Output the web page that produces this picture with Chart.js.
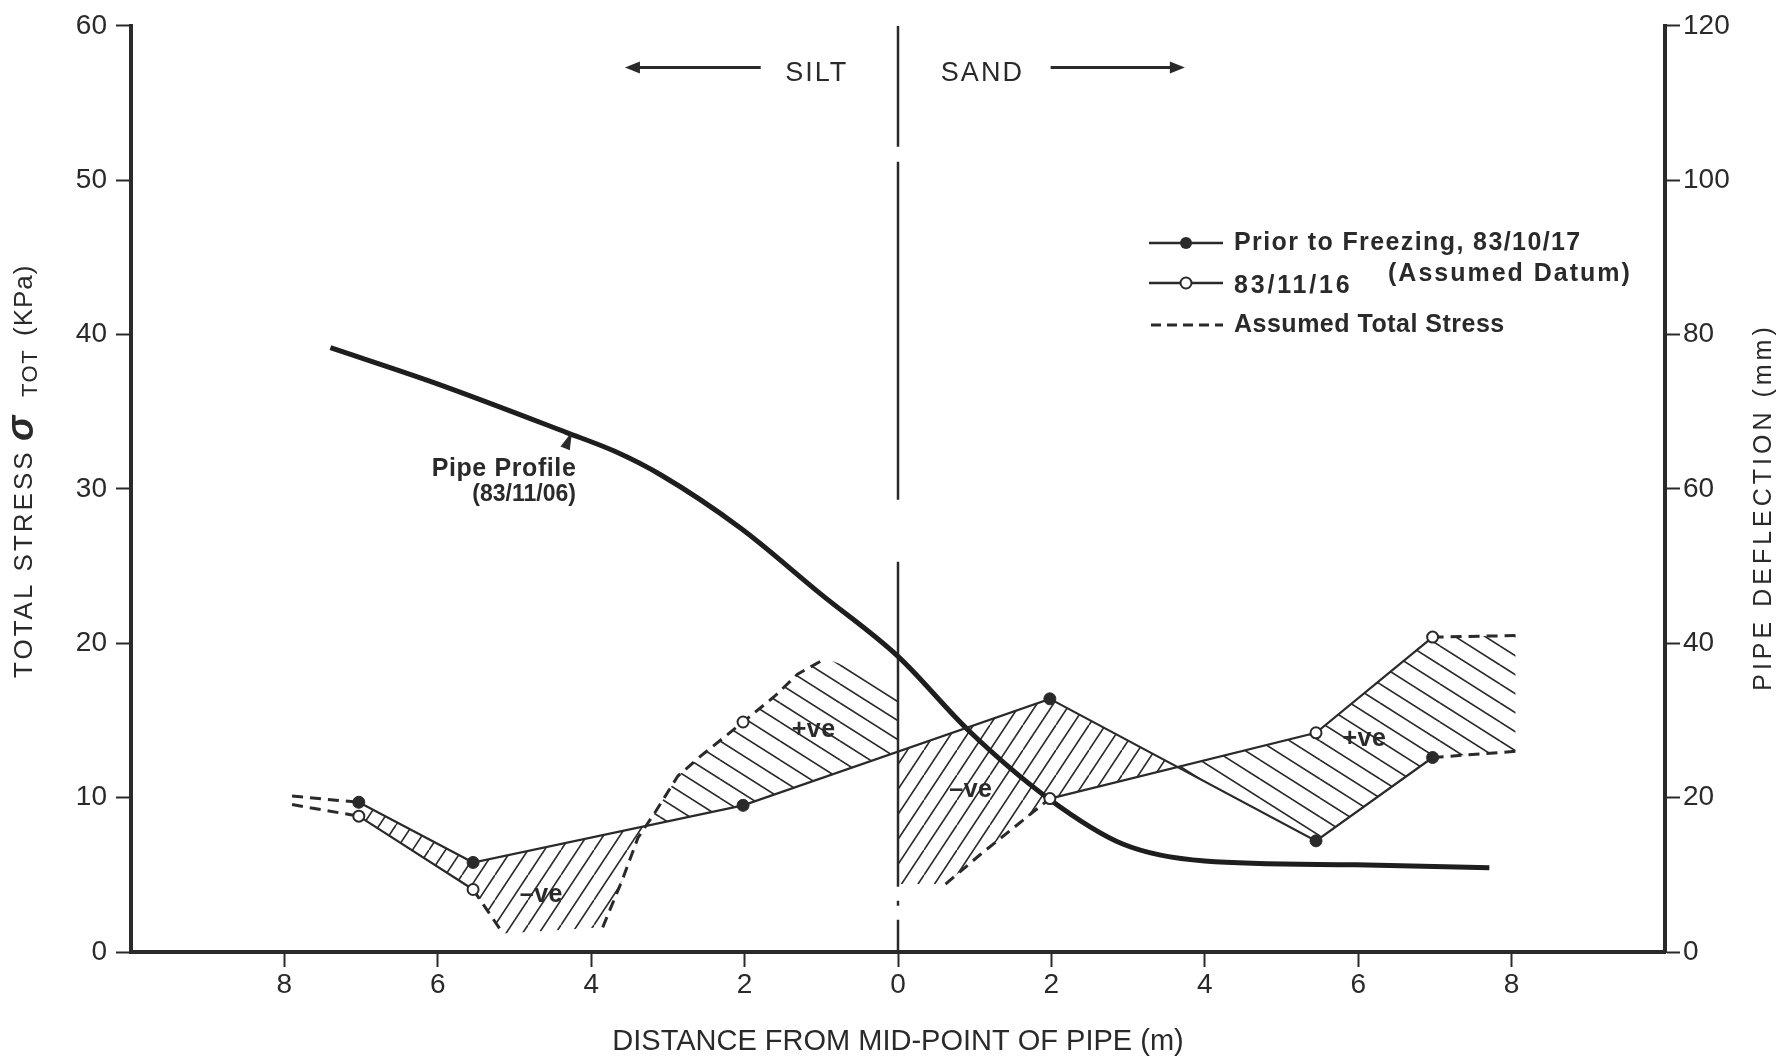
<!DOCTYPE html>
<html>
<head>
<meta charset="utf-8">
<title>Total stress and pipe deflection</title>
<script src="https://cdn.jsdelivr.net/npm/chart.js@4.4.1/dist/chart.umd.min.js"></script>
<style>
  html, body { margin: 0; padding: 0; background: #ffffff; }
  #wrap { width: 1787px; height: 1059px; position: relative; }
</style>
</head>
<body>
<div id="wrap"><canvas id="c" width="1787" height="1059"></canvas></div>
<script>
// ---- axes ----
const distanceTicks = [-8, -6, -4, -2, 0, 2, 4, 6, 8];   // m, negative = silt side
const stressRange = [0, 60];                              // kPa
const deflectionRange = [0, 120];                         // mm

// ---- total stress cells (kPa) ----
const cellX = [-7.03, -5.54, -2.02, 1.98, 5.45, 6.97];
const priorStress = [9.7, 5.8, 9.5, 16.4, 7.2, 12.6];     // prior to freezing, 83/10/17
const novStress = [8.8, 4.05, 14.9, 9.94, 14.2, 20.4];    // 83/11/16

// ---- assumed total stress (dashed pieces) ----
const assumedPriorLeftX = [-7.9, -7.03], assumedPriorLeftY = [10.1, 9.7];
const assumedNovLeftX = [-7.9, -7.03], assumedNovLeftY = [9.55, 8.8];
const assumedDropX = [-5.54, -5.15], assumedDropY = [4.05, 1.2];
const assumedRiseX = [-3.85, -3.6, -3.39, -3.16, -2.87, -2.57, -2.02, -1.6, -1.31, -0.95];
const assumedRiseY = [1.6, 4.6, 7.4, 9.1, 11.4, 12.7, 14.9, 16.6, 18.0, 19.0];
const assumedSandX = [0.62, 1.07, 1.52, 1.98];
const assumedSandY = [4.4, 6.3, 8.1, 9.94];
const assumedNovRightX = [6.97, 8.05], assumedNovRightY = [20.4, 20.5];
const assumedPriorRightX = [6.97, 8.05], assumedPriorRightY = [12.6, 13.0];
// upper edge of the positive hatching next to the mid-point
const plusEdgeX = [-0.95, 0], plusEdgeY = [19.0, 17.4];

// ---- pipe profile 83/11/06 (mm) ----
const pipeX = [-7.4, -6.06, -4.32, -3.7, -3.09, -2.05, -1.01, 0, 0.92, 1.96, 2.93, 4.0, 5.97, 7.71];
const pipeY = [78.3, 73.8, 67.3, 64.9, 61.8, 54.9, 46.4, 38.3, 28.7, 19.9, 14.0, 11.8, 11.3, 10.9];

// ---- silt / sand interface (drawn from the top down) ----
const interfaceX = [0, 0], interfaceY = [60, 0];

// ---- text placed in data units ----
const zoneLabelY = 56.9, zoneArrowY = 57.3;
const siltLabelX = -1.06, sandLabelX = 1.1;
const siltArrowX = [-1.79, -3.56], sandArrowX = [1.99, 3.74];
const signLabels = [
  { text: '+ve', x: -1.1, y: 14.4 },
  { text: '+ve', x: 6.08, y: 13.8 },
  { text: '\u2013ve', x: -4.65, y: 3.7 },
  { text: '\u2013ve', x: 0.95, y: 10.5 }
];
const pipeNote = { x: -6.08, y1: 31.3, x2: -5.55, y2: 29.6, tipX: -4.25, tipY: 33.7, baseY: 32.5 };

// ---------------------------------------------------------------------------
const FONT = "'Liberation Sans', Arial, Helvetica, sans-serif";
const INK = '#2a2a2a';
const GAP = { x: NaN, y: NaN };

function pts(xs, ys) { return xs.map((v, i) => ({ x: v, y: ys[i] })); }
function interp(xs, ys, v) {
  for (let i = 0; i < xs.length - 1; i++) {
    if (v >= xs[i] && v <= xs[i + 1]) {
      const t = (v - xs[i]) / (xs[i + 1] - xs[i]);
      return ys[i] + t * (ys[i + 1] - ys[i]);
    }
  }
  return NaN;
}
function clip(xs, ys, a, b) {
  const out = [{ x: a, y: interp(xs, ys, a) }];
  xs.forEach((v, i) => { if (v > a && v < b) out.push({ x: v, y: ys[i] }); });
  out.push({ x: b, y: interp(xs, ys, b) });
  return out;
}
function crossing(xa, ya, xb, yb, a, b) {
  const f = v => interp(xa, ya, v) - interp(xb, yb, v);
  let lo = a, hi = b, flo = f(lo);
  for (let k = 0; k < 60; k++) {
    const mid = (lo + hi) / 2, fm = f(mid);
    if (Math.sign(fm) === Math.sign(flo)) { lo = mid; flo = fm; } else { hi = mid; }
  }
  return (lo + hi) / 2;
}
function joinPieces(pieces) {
  const out = [];
  pieces.forEach((p, i) => { if (i) out.push(GAP); out.push(...p); });
  return out;
}

// hatched areas between the two stress profiles
const xc1 = crossing(cellX, priorStress, assumedRiseX, assumedRiseY, -3.85, -0.95);
const xc2 = crossing(cellX, priorStress, cellX, novStress, 1.98, 5.45);
const prior0 = interp(cellX, priorStress, 0);

const negA = [...clip(cellX, priorStress, -7.03, -5.54), ...clip(cellX, novStress, -7.03, -5.54).reverse()];
const negB = [...clip(cellX, priorStress, -5.54, xc1),
              ...clip(assumedRiseX, assumedRiseY, assumedRiseX[0], xc1).reverse(),
              ...pts(assumedDropX, assumedDropY).reverse()];
const negD = [...clip(cellX, priorStress, 0, xc2),
              ...clip(cellX, novStress, 1.98, xc2).reverse(),
              ...pts(assumedSandX, assumedSandY).reverse(),
              { x: 0, y: assumedSandY[0] }];
const posC = [...clip(assumedRiseX, assumedRiseY, xc1, assumedRiseX[assumedRiseX.length - 1]),
              ...pts(plusEdgeX, plusEdgeY),
              { x: 0, y: prior0 },
              ...clip(cellX, priorStress, xc1, 0).reverse()];
const posE = [...clip(cellX, novStress, xc2, 6.97),
              ...pts(assumedNovRightX, assumedNovRightY),
              ...pts(assumedPriorRightX, assumedPriorRightY).reverse(),
              ...clip(cellX, priorStress, xc2, 6.97).reverse()];

// hatch patterns: two parallel lines per tile
const canvas = document.getElementById('c');
const mainCtx = canvas.getContext('2d');
function hatch(rising, w, h, lw) {
  const c = document.createElement('canvas');
  c.width = w; c.height = h;
  const g = c.getContext('2d');
  g.strokeStyle = INK; g.lineWidth = lw; g.lineCap = 'butt';
  for (let k = -2; k <= 2; k++) {
    const off = k * h / 2;
    g.beginPath();
    if (rising) { g.moveTo(0, h + off); g.lineTo(w, off); }
    else { g.moveTo(0, off); g.lineTo(w, h + off); }
    g.stroke();
  }
  return mainCtx.createPattern(c, 'repeat');
}
const negHatch = hatch(true, 33, 50, 1.6);
const posHatch = hatch(false, 60, 38, 1.6);

const assumedData = joinPieces([
  pts(assumedPriorLeftX, assumedPriorLeftY),
  pts(assumedNovLeftX, assumedNovLeftY),
  pts(assumedDropX, assumedDropY),
  pts(assumedRiseX, assumedRiseY),
  pts(assumedSandX, assumedSandY),
  pts(assumedNovRightX, assumedNovRightY),
  pts(assumedPriorRightX, assumedPriorRightY)
]);
// measured 83/11/16 segments are solid only where both ends were read
const novData = [
  { x: cellX[0], y: novStress[0] }, { x: cellX[1], y: novStress[1] }, GAP,
  { x: cellX[2], y: novStress[2] }, GAP,
  { x: cellX[3], y: novStress[3] }, { x: cellX[4], y: novStress[4] }, { x: cellX[5], y: novStress[5] }
];

// ---- annotation layer: legend, soil zones, notes, axis titles ----
function text(ctx, str, px, py, font, align, spacing) {
  ctx.font = font;
  ctx.textAlign = align || 'left';
  ctx.textBaseline = 'middle';
  ctx.letterSpacing = (spacing || 0) + 'px';
  ctx.fillText(str, px, py);
  ctx.letterSpacing = '0px';
}
function arrowHead(ctx, tx, ty, dx, dy, len, half) {
  const n = Math.hypot(dx, dy), ux = dx / n, uy = dy / n;
  ctx.beginPath();
  ctx.moveTo(tx, ty);
  ctx.lineTo(tx - ux * len - uy * half, ty - uy * len + ux * half);
  ctx.lineTo(tx - ux * len + uy * half, ty - uy * len - ux * half);
  ctx.closePath();
  ctx.fill();
}

const annotations = {
  id: 'annotations',
  afterDraw(chart) {
    const { ctx, scales: { x, y } } = chart;
    const X = v => x.getPixelForValue(v), Y = v => y.getPixelForValue(v);
    ctx.save();
    ctx.fillStyle = INK; ctx.strokeStyle = INK;

    // soil zones
    text(ctx, 'SILT', X(siltLabelX), Y(zoneLabelY), `27px ${FONT}`, 'center', 2);
    text(ctx, 'SAND', X(sandLabelX), Y(zoneLabelY), `27px ${FONT}`, 'center', 2);
    ctx.lineWidth = 3.2;
    [siltArrowX, sandArrowX].forEach(a => {
      const x0 = X(a[0]), x1 = X(a[1]), yy = Y(zoneArrowY);
      ctx.beginPath(); ctx.moveTo(x0, yy); ctx.lineTo(x1 - Math.sign(x1 - x0) * 8, yy); ctx.stroke();
      arrowHead(ctx, x1, yy, x1 - x0, 0, 15, 6);
    });

    // +ve / -ve
    signLabels.forEach(s => text(ctx, s.text, X(s.x), Y(s.y), `bold 25px ${FONT}`, 'center', 0.5));

    // pipe profile note
    text(ctx, 'Pipe Profile', X(pipeNote.x), Y(pipeNote.y1), `bold 25px ${FONT}`, 'left', 0.6);
    text(ctx, '(83/11/06)', X(pipeNote.x2), Y(pipeNote.y2), `bold 23px ${FONT}`, 'left', 0);
    arrowHead(ctx, X(pipeNote.tipX), Y(pipeNote.tipY), X(pipeNote.tipX) - X(pipeNote.tipX - 0.1),
              Y(pipeNote.tipY) - Y(pipeNote.baseY), 18, 5);

    // legend
    const lx0 = 1149, lx1 = 1223, tx = 1234;
    const rows = [243, 283, 325];
    ctx.lineWidth = 2.5;
    ctx.beginPath(); ctx.moveTo(lx0, rows[0]); ctx.lineTo(lx1, rows[0]); ctx.stroke();
    ctx.beginPath(); ctx.arc((lx0 + lx1) / 2, rows[0], 6, 0, Math.PI * 2); ctx.fill();
    ctx.beginPath(); ctx.moveTo(lx0, rows[1]); ctx.lineTo(lx1, rows[1]); ctx.stroke();
    ctx.beginPath(); ctx.arc((lx0 + lx1) / 2, rows[1], 5.5, 0, Math.PI * 2);
    ctx.fillStyle = '#ffffff'; ctx.fill(); ctx.lineWidth = 2; ctx.stroke(); ctx.fillStyle = INK;
    ctx.lineWidth = 3; ctx.setLineDash([10, 6]);
    ctx.beginPath(); ctx.moveTo(lx0 + 2, rows[2]); ctx.lineTo(lx1, rows[2]); ctx.stroke();
    ctx.setLineDash([]);
    const lf = `bold 25px ${FONT}`;
    text(ctx, 'Prior to Freezing, 83/10/17', tx, rows[0], lf, 'left', 1.4);
    text(ctx, '(Assumed Datum)', 1388, 274, lf, 'left', 2);
    text(ctx, '83/11/16', tx, rows[1] + 3, lf, 'left', 2.8);
    text(ctx, 'Assumed Total Stress', tx, rows[2], lf, 'left', 0.5);

    // left axis title: TOTAL STRESS  sigma_TOT (KPa)
    ctx.save();
    ctx.translate(25, 678);
    ctx.rotate(-Math.PI / 2);
    text(ctx, 'TOTAL STRESS', 0, 0, `26px ${FONT}`, 'left', 3);
    text(ctx, '\u03c3', 237, -2, `bold italic 38px ${FONT}`, 'left', 0);
    text(ctx, 'TOT', 281, 6, `22px ${FONT}`, 'left', 1.5);
    text(ctx, '(KPa)', 342, 0, `26px ${FONT}`, 'left', 1);
    ctx.restore();

    // right axis title
    ctx.save();
    ctx.translate(1764, 507);
    ctx.rotate(-Math.PI / 2);
    text(ctx, 'PIPE DEFLECTION (mm)', 0, 0, `25px ${FONT}`, 'center', 4);
    ctx.restore();

    ctx.restore();
  }
};

const tickFont = { family: FONT, size: 28 };
const axisCommon = {
  grid: { display: true, drawOnChartArea: false, drawTicks: true, tickLength: 15, tickWidth: 2, tickColor: INK },
  border: { display: true, width: 4, color: INK }
};

new Chart(canvas, {
  type: 'line',
  data: {
    datasets: [
      {
        label: 'Prior to Freezing, 83/10/17',
        data: pts(cellX, priorStress),
        borderColor: INK, borderWidth: 2.2,
        pointRadius: 6, pointBackgroundColor: INK, pointBorderColor: INK, pointBorderWidth: 1,
        yAxisID: 'y'
      },
      {
        label: '83/11/16',
        data: novData,
        borderColor: INK, borderWidth: 2.2,
        pointRadius: 5.5, pointBackgroundColor: '#ffffff', pointBorderColor: INK, pointBorderWidth: 2,
        yAxisID: 'y'
      },
      {
        label: 'Assumed Total Stress',
        data: assumedData,
        borderColor: INK, borderWidth: 3, borderDash: [11, 7],
        pointRadius: 0, yAxisID: 'y'
      },
      {
        label: 'Pipe Profile (83/11/06)',
        data: pts(pipeX, pipeY),
        borderColor: '#1e1e1e', borderWidth: 5,
        cubicInterpolationMode: 'monotone',
        pointRadius: 0, yAxisID: 'y2'
      },
      {
        label: 'Silt / sand interface',
        data: pts(interfaceX, interfaceY),
        borderColor: INK, borderWidth: 2.5, borderDash: [121, 15, 338, 62, 325, 14, 5, 14, 60],
        pointRadius: 0, yAxisID: 'y'
      },
      {
        label: 'Positive',
        data: joinPieces([posC, posE]),
        fill: 'shape', backgroundColor: posHatch,
        borderWidth: 0, borderColor: 'rgba(0,0,0,0)', pointRadius: 0, yAxisID: 'y'
      },
      {
        label: 'Negative',
        data: joinPieces([negA, negB, negD]),
        fill: 'shape', backgroundColor: negHatch,
        borderWidth: 0, borderColor: 'rgba(0,0,0,0)', pointRadius: 0, yAxisID: 'y'
      }
    ]
  },
  options: {
    responsive: false,
    animation: false,
    devicePixelRatio: 1,
    layout: { padding: { top: 22, left: 0, right: 0, bottom: 0 } },
    plugins: { legend: { display: false }, tooltip: { enabled: false } },
    scales: {
      x: {
        type: 'linear', min: -10, max: 10,
        afterBuildTicks: s => { s.ticks = distanceTicks.map(v => ({ value: v })); },
        ticks: { callback: v => String(Math.abs(v)), font: tickFont, color: INK, padding: 1, maxRotation: 0, autoSkip: false },
        title: { display: true, text: 'DISTANCE FROM MID-POINT OF PIPE (m)', font: { family: FONT, size: 29 }, color: INK, padding: 0 },
        afterFit: s => { s.height = 107; },
        ...axisCommon
      },
      y: {
        position: 'left', min: stressRange[0], max: stressRange[1],
        ticks: { stepSize: 10, font: tickFont, color: INK, padding: 9 },
        afterFit: s => { s.width = 131; },
        ...axisCommon
      },
      y2: {
        position: 'right', min: deflectionRange[0], max: deflectionRange[1],
        ticks: { stepSize: 20, font: tickFont, color: INK, padding: 3 },
        afterFit: s => { s.width = 122; },
        ...axisCommon
      }
    }
  },
  plugins: [annotations]
});
</script>
</body>
</html>
